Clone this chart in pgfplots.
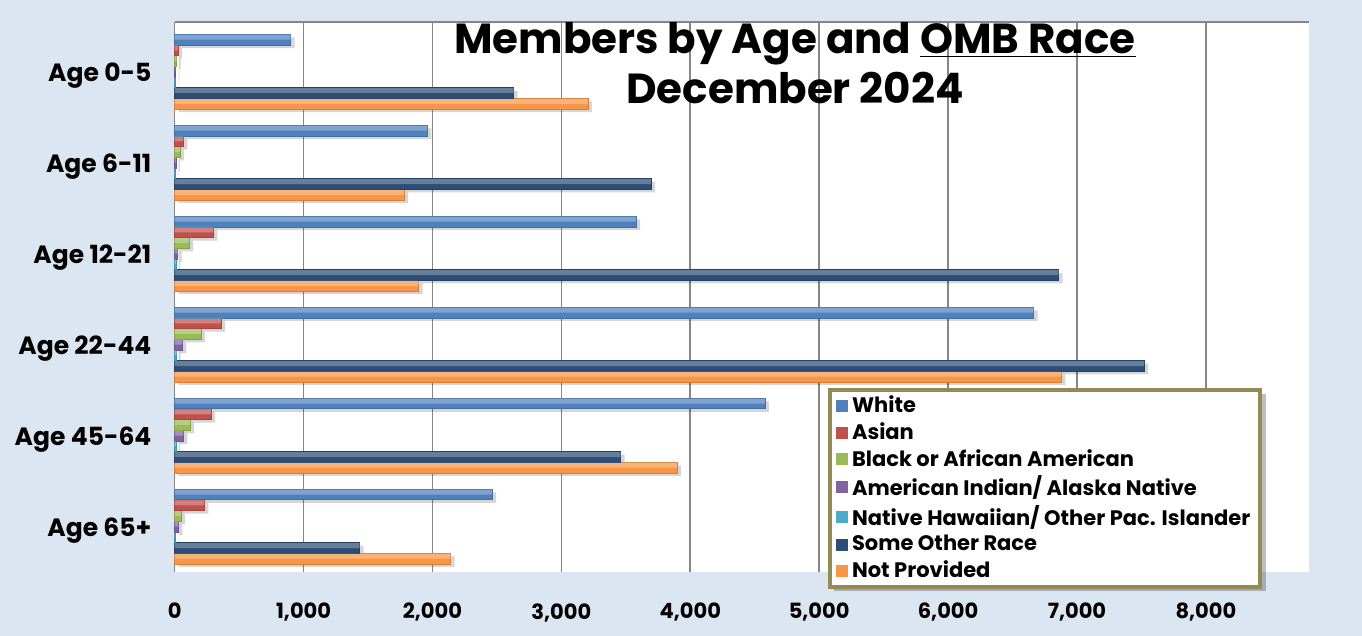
\documentclass[border=0pt]{standalone}
\usepackage{pgfplots}
\pgfplotsset{compat=1.18}
\usepackage{pgfplotstable}
\usepackage{fontspec}
\setmainfont{Poppins}

\definecolor{bgblue}{RGB}{220,230,242}
\definecolor{cwhite}{RGB}{79,129,189}
\definecolor{casian}{RGB}{192,80,77}
\definecolor{cblack}{RGB}{155,187,89}
\definecolor{cindian}{RGB}{128,100,162}
\definecolor{chaw}{RGB}{75,172,198}
\definecolor{cother}{RGB}{44,77,117}
\definecolor{cnp}{RGB}{247,150,70}
\definecolor{legborder}{RGB}{148,138,84}
\definecolor{gridgray}{RGB}{134,134,134}

% members per age group (pos 5 = Age 0-5 at the top ... 0 = Age 65+)
\pgfplotstableread{
pos white asian black indian hawaii other notprov
5   900   25    15    5      2      2630  3205
4   1960  67    41    10     3      3695  1780
3   3580  300   111   23     10     6857  1893
2   6663  360   204   59     15     7521  6879
1   4579  282   119   67     10     3460  3896
0   2463  230   49    28     3      1434  2141
}\datatable

\pgfplotsset{
  racebar/.style={draw=#1!85!black, line width=0.3pt, fill=#1},
  shine/.style={forget plot, draw=none, fill=white, fill opacity=0.28, bar width=0.055},
  shade/.style={forget plot, draw=none, fill=black, fill opacity=0.16, xshift=2pt},
}

\begin{document}
\begin{tikzpicture}
  \fill[bgblue] (0,0) rectangle (681pt,318pt);
  \begin{axis}[
    at={(87.35pt,32pt)}, anchor=south west,
    width=567.15pt, height=275pt, scale only axis,
    axis background/.style={fill=white},
    xbar, bar width=0.1175,
    xmin=0, xmax=8800,
    ymin=-0.5, ymax=5.545,
    xtick={0,1000,...,8000},
    ytick={0,...,5},
    yticklabels={Age 65+,Age 45-64,Age 22-44,Age 12-21,Age 6-11,Age 0-5},
    extra y ticks={-0.5,0.5,...,5.5},
    extra y tick labels={},
    extra y tick style={major tick length=4pt, tick align=outside, tick style={gridgray, line width=0.8pt}},
    xmajorgrids, major grid style={gridgray, line width=0.8pt},
    axis x line=bottom, x axis line style={draw=none},
    axis y line=left, y axis line style={gridgray, line width=0.8pt, -},
    xtick style={draw=none},
    ytick style={draw=none},
    /pgf/number format/assume math mode=true,
    /pgf/number format/1000 sep={,},
    scaled x ticks=false,
    xticklabel style={font=\bfseries\fontsize{10.5}{12}\selectfont, yshift=-10pt},
    yticklabel style={font=\bfseries\fontsize{12.5}{14}\selectfont, xshift=-6pt, yshift=-2pt},
    legend style={at={(rel axis cs:0.576,0.3345)}, anchor=north west,
      draw=legborder, line width=2pt, fill=white,
      font=\bfseries\fontsize{10.5}{12}\selectfont,
      row sep=-0.6pt, inner xsep=3pt, inner ysep=1pt},
    legend cell align=left,
    reverse legend,
    legend image code/.code={\fill[#1, draw=none] (0pt,-3pt) rectangle (6pt,3pt);},
    clip=false,
  ]
    % soft shadows below the bars
    \addplot[shade, bar shift=-0.3875] table[x=notprov,y=pos] {\datatable};
    \addplot[shade, bar shift=-0.2700] table[x=other,y=pos] {\datatable};
    \addplot[shade, bar shift=-0.1525] table[x=hawaii,y=pos] {\datatable};
    \addplot[shade, bar shift=-0.0350] table[x=indian,y=pos] {\datatable};
    \addplot[shade, bar shift=0.0825]  table[x=black,y=pos] {\datatable};
    \addplot[shade, bar shift=0.2000]  table[x=asian,y=pos] {\datatable};
    \addplot[shade, bar shift=0.3175]  table[x=white,y=pos] {\datatable};

    \addplot[racebar=cnp,    bar shift=-0.3525] table[x=notprov,y=pos] {\datatable};
    \addplot[racebar=cother, bar shift=-0.2350] table[x=other,y=pos] {\datatable};
    \addplot[racebar=chaw,   bar shift=-0.1175] table[x=hawaii,y=pos] {\datatable};
    \addplot[racebar=cindian,bar shift=0]       table[x=indian,y=pos] {\datatable};
    \addplot[racebar=cblack, bar shift=0.1175]  table[x=black,y=pos] {\datatable};
    \addplot[racebar=casian, bar shift=0.2350]  table[x=asian,y=pos] {\datatable};
    \addplot[racebar=cwhite, bar shift=0.3525]  table[x=white,y=pos] {\datatable};
    \legend{Not Provided,Some Other Race,Native Hawaiian/ Other Pac. Islander,American Indian/ Alaska Native,Black or African American,Asian,White}

    % lighter upper half of each bar
    \addplot[shine, bar shift=-0.3265] table[x=notprov,y=pos] {\datatable};
    \addplot[shine, bar shift=-0.2090] table[x=other,y=pos] {\datatable};
    \addplot[shine, bar shift=-0.0915] table[x=hawaii,y=pos] {\datatable};
    \addplot[shine, bar shift=0.0260]  table[x=indian,y=pos] {\datatable};
    \addplot[shine, bar shift=0.1435]  table[x=black,y=pos] {\datatable};
    \addplot[shine, bar shift=0.2610]  table[x=asian,y=pos] {\datatable};
    \addplot[shine, bar shift=0.3785]  table[x=white,y=pos] {\datatable};

    \draw[gridgray, line width=0.8pt] (rel axis cs:0,1) -- (rel axis cs:1,1);
    % legend shadow
    \fill[black, opacity=0.25] (rel axis cs:0.5812,-0.0345) rectangle (rel axis cs:0.962,0.3236);
  \end{axis}
  \node[align=center, font=\bfseries\fontsize{21}{25}\selectfont] at (397.5pt,286.5pt)
    {Members by Age and \underline{OMB Race}\\December 2024};
\end{tikzpicture}
\end{document}
